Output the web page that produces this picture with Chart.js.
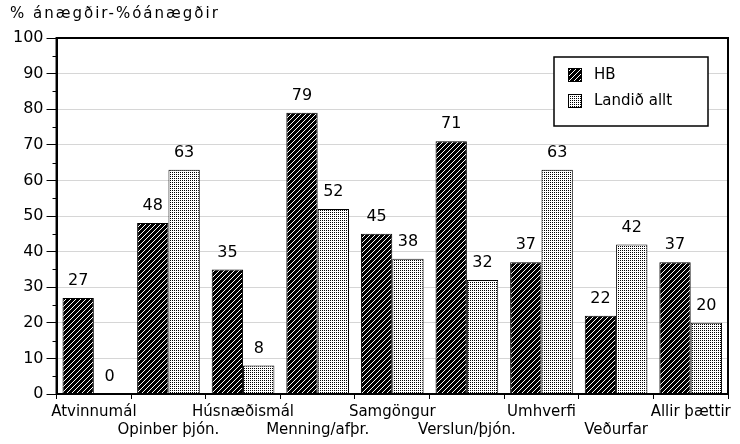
<!DOCTYPE html>
<html>
<head>
<meta charset="utf-8">
<script src="https://cdn.jsdelivr.net/npm/chart.js@4"></script>
<style>
  html, body { margin: 0; padding: 0; background: #fff; }
  #wrap { width: 740px; height: 444px; }
</style>
</head>
<body>
<div id="wrap"><canvas id="chart"></canvas></div>
<script>
const flokkar = ['Atvinnumál', 'Opinber þjón.', 'Húsnæðismál', 'Menning/afþr.', 'Samgöngur',
    'Verslun/þjón.', 'Umhverfi', 'Veðurfar', 'Allir þættir'];
const hbGildi = [27, 48, 35, 79, 45, 71, 37, 22, 37];
const landidGildi = [0, 63, 8, 52, 38, 32, 63, 42, 20];
const yTitill = '% ánægðir-%óánægðir';
const rodHeiti = ['HB', 'Landið allt'];

const letur = 'DejaVu Sans';

function gerahatch() {
    const c = document.createElement('canvas');
    c.width = 5; c.height = 5;
    const g = c.getContext('2d');
    g.fillStyle = '#000';
    g.fillRect(0, 0, 5, 5);
    g.fillStyle = '#fff';
    for (let i = 0; i < 5; i++) {
        g.fillRect(4 - i, i, 1, 1);
    }
    return g.createPattern(c, 'repeat');
}

function geradoppur() {
    const c = document.createElement('canvas');
    c.width = 2; c.height = 2;
    const g = c.getContext('2d');
    g.fillStyle = '#fff';
    g.fillRect(0, 0, 2, 2);
    g.fillStyle = '#000';
    g.fillRect(0, 0, 1, 1);
    return g.createPattern(c, 'repeat');
}

const ctx = document.getElementById('chart').getContext('2d');
const hbMynstur = gerahatch();
const landMynstur = geradoppur();

// tvaer linur a x-as: annar hver flokkur nedri
const xMerki = flokkar.map((f, i) => i % 2 === 0 ? [f, ''] : ['', f]);

const rammi = {
    id: 'rammi',
    afterDraw(chart) {
        const a = chart.chartArea;
        const c = chart.ctx;
        const y = chart.scales.y;
        c.save();
        c.strokeStyle = '#000';
        c.lineWidth = 2;
        c.strokeRect(a.left, a.top, a.right - a.left, a.bottom - a.top);
        // minni strik a y-as
        c.lineWidth = 1;
        for (let v = 5; v < 100; v += 10) {
            const py = Math.round(y.getPixelForValue(v)) + 0.5;
            c.beginPath();
            c.moveTo(a.left - 4, py);
            c.lineTo(a.left, py);
            c.stroke();
        }
        // titill y-asar
        c.font = '15px "' + letur + '"';
        c.letterSpacing = '2px';
        c.fillStyle = '#000';
        c.textAlign = 'left';
        c.textBaseline = 'middle';
        c.fillText(yTitill, 10, a.top - 24);
        c.restore();
    }
};

const gildisMerki = {
    id: 'gildisMerki',
    afterDatasetsDraw(chart) {
        const c = chart.ctx;
        c.save();
        c.font = '16px "' + letur + '"';
        c.fillStyle = '#000';
        c.textAlign = 'center';
        c.textBaseline = 'bottom';
        chart.data.datasets.forEach((ds, di) => {
            chart.getDatasetMeta(di).data.forEach((bar, i) => {
                c.fillText(ds.data[i], bar.x, bar.y - 9);
            });
        });
        c.restore();
    }
};

const skyring = {
    id: 'skyring',
    afterDraw(chart) {
        const c = chart.ctx;
        const a = chart.chartArea;
        const x0 = a.right - 174, y0 = a.top + 19, w = 154, h = 69;
        c.save();
        c.fillStyle = '#fff';
        c.fillRect(x0, y0, w, h);
        c.strokeStyle = '#000';
        c.lineWidth = 1.5;
        c.strokeRect(x0, y0, w, h);
        c.font = '15px "' + letur + '"';
        c.textBaseline = 'middle';
        c.textAlign = 'left';
        const mynstur = [hbMynstur, landMynstur];
        rodHeiti.forEach((heiti, i) => {
            const ly = y0 + 18 + i * 26;
            c.fillStyle = mynstur[i];
            c.fillRect(x0 + 14, ly - 7, 14, 14);
            c.lineWidth = 1;
            c.strokeRect(x0 + 14.5, ly - 6.5, 13, 13);
            c.fillStyle = '#000';
            c.fillText(heiti, x0 + 40, ly);
        });
        c.restore();
    }
};

new Chart(ctx, {
    type: 'bar',
    data: {
        labels: xMerki,
        datasets: [{
            label: rodHeiti[0],
            data: hbGildi,
            backgroundColor: hbMynstur,
            borderColor: '#000',
            borderWidth: 1
        }, {
            label: rodHeiti[1],
            data: landidGildi,
            backgroundColor: landMynstur,
            borderColor: '#000',
            borderWidth: 1
        }]
    },
    options: {
        responsive: true,
        maintainAspectRatio: false,
        animation: false,
        layout: { padding: { left: 10, right: 12, top: 38, bottom: 1 } },
        datasets: {
            bar: { categoryPercentage: 0.84, barPercentage: 1.0 }
        },
        scales: {
            x: {
                offset: true,
                grid: {
                    display: true,
                    drawOnChartArea: false,
                    offset: true,
                    color: '#000',
                    tickLength: 5
                },
                border: { color: '#000', width: 2 },
                ticks: {
                    color: '#000',
                    font: { family: letur, size: 15 },
                    maxRotation: 0,
                    autoSkip: false,
                    padding: 4
                }
            },
            y: {
                min: 0,
                max: 100,
                ticks: {
                    stepSize: 10,
                    color: '#000',
                    font: { family: letur, size: 16 },
                    padding: 3
                },
                grid: {
                    color: '#d6d6d6',
                    tickColor: '#000',
                    tickLength: 10
                },
                border: { color: '#000', width: 2 }
            }
        },
        plugins: {
            legend: { display: false },
            tooltip: { enabled: false },
            title: { display: false }
        }
    },
    plugins: [rammi, gildisMerki, skyring]
});
</script>
</body>
</html>
